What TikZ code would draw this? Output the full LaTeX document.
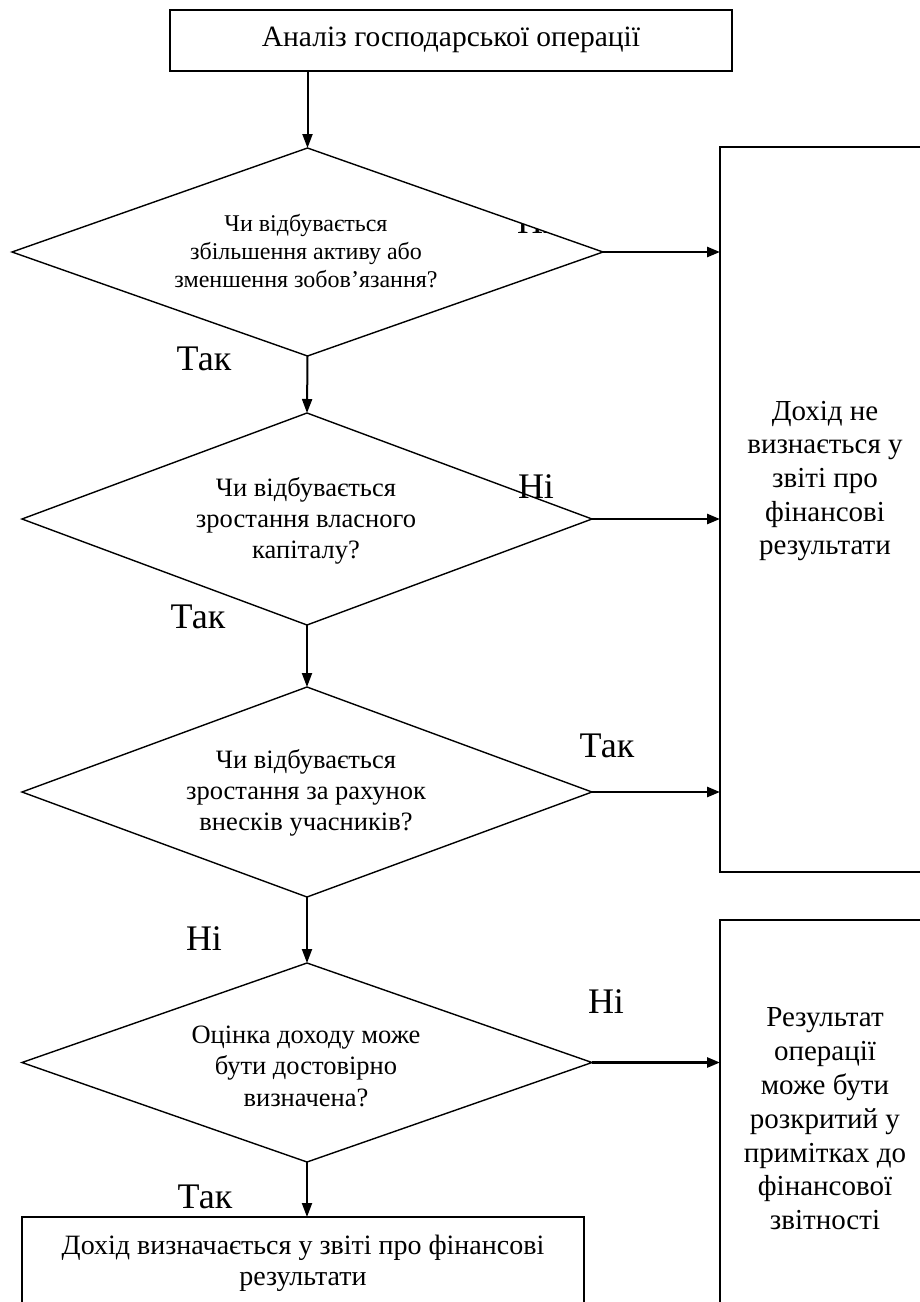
\documentclass[tikz,border=0pt]{standalone}
\usepackage{fontspec}
\setmainfont{Liberation Serif}
\usetikzlibrary{shapes.geometric,arrows.meta}
\begin{document}
\begin{tikzpicture}[x=1pt,y=-1pt,
  shp/.style={draw,line width=1.4pt,inner sep=0pt,outer sep=0pt},
  dia/.style={shp,diamond},
  dtxt/.style={align=center,inner sep=0pt},
  arr/.style={line width=2pt,-{Triangle[length=14pt,width=10pt]}},
  harr/.style={line width=2.6pt,-{Triangle[length=13pt,width=10pt]}},
  lbl/.style={font=\fontsize{36}{40}\selectfont,inner sep=0pt,anchor=base}]
\useasboundingbox (0,0) rectangle (920,1302);
\clip (0,0) rectangle (920,1302);
\fill[white] (0,0) rectangle (920,1302);
% boxes
\node[shp,minimum width=562pt,minimum height=61pt] (start) at (451,40.5) {};
\node[dtxt,font=\fontsize{29.5}{32}\selectfont] (starttxt) at (451,40) {Аналіз господарської операції};
\node[shp,minimum width=240pt,minimum height=725pt,anchor=north west] (notrec) at (720,147) {};
\node[dtxt,font=\fontsize{29}{33.7}\selectfont] (notrectxt) at (825,481) {Дохід не\\визнається у\\звіті про\\фінансові\\результати};
\node[shp,minimum width=240pt,minimum height=440pt,anchor=north west] (notes) at (720,920) {};
\node[dtxt,font=\fontsize{29}{33.8}\selectfont] (notestxt) at (825,1119) {Результат\\операції\\може бути\\розкритий у\\примітках до\\фінансової\\звітності};
\node[shp,minimum width=562pt,minimum height=120pt,anchor=north west] (rec) at (22,1217) {};
\node[dtxt,font=\fontsize{28}{31}\selectfont] (rectxt) at (303,1263) {Дохід визначається у звіті про фінансові\\результати};
% diamonds
\node[dia,minimum width=591pt,minimum height=208pt] (d1) at (307.5,252) {};
\node[dtxt,font=\fontsize{24}{28}\selectfont] (d1t) at (306,251) {Чи відбувається\\збільшення активу або\\зменшення зобов’язання?};
\node[dia,minimum width=570pt,minimum height=212pt] (d2) at (307,519) {};
\node[dtxt,font=\fontsize{26.5}{31}\selectfont] (d2t) at (306,521) {Чи відбувається\\зростання власного\\капіталу?};
\node[dia,minimum width=570pt,minimum height=210pt] (d3) at (307,792) {};
\node[dtxt,font=\fontsize{26.5}{31}\selectfont] (d3t) at (306,793) {Чи відбувається\\зростання за рахунок\\внесків учасників?};
\node[dia,minimum width=570pt,minimum height=199pt] (d4) at (307,1062.5) {};
\node[dtxt,font=\fontsize{26.5}{31.5}\selectfont] (d4t) at (306,1066) {Оцінка доходу може\\бути достовірно\\визначена?};
% arrows
\draw[arr] (start.south -| d1.north) -- (d1.north);
\draw[arr] (d1.south) -- (d2.north);
\draw[arr] (d2.south) -- (d3.north);
\draw[arr] (d3.south) -- (d4.north);
\draw[arr] (d4.south) -- (d4.south |- rec.north);
\draw[harr] (d1.east) -- (d1.east -| notrec.west);
\draw[harr] (d2.east) -- (d2.east -| notrec.west);
\draw[harr] (d3.east) -- (d3.east -| notrec.west);
\draw[harr] (d4.east) -- (d4.east -| notes.west);
% labels
\begin{scope}
\clip (d1.north) -- (d1.east) -- (d1.south) -- (d1.west) -- cycle;
\node[lbl] (l1) at (535,233) {Ні};
\end{scope}
\node[lbl] (l2) at (204,370) {Так};
\node[lbl] (l3) at (536,498) {Ні};
\node[lbl] (l4) at (198,628) {Так};
\node[lbl] (l5) at (607,757) {Так};
\node[lbl] (l6) at (204,950) {Ні};
\node[lbl] (l7) at (606,1013) {Ні};
\node[lbl] (l8) at (205,1208) {Так};
\end{tikzpicture}
\end{document}
